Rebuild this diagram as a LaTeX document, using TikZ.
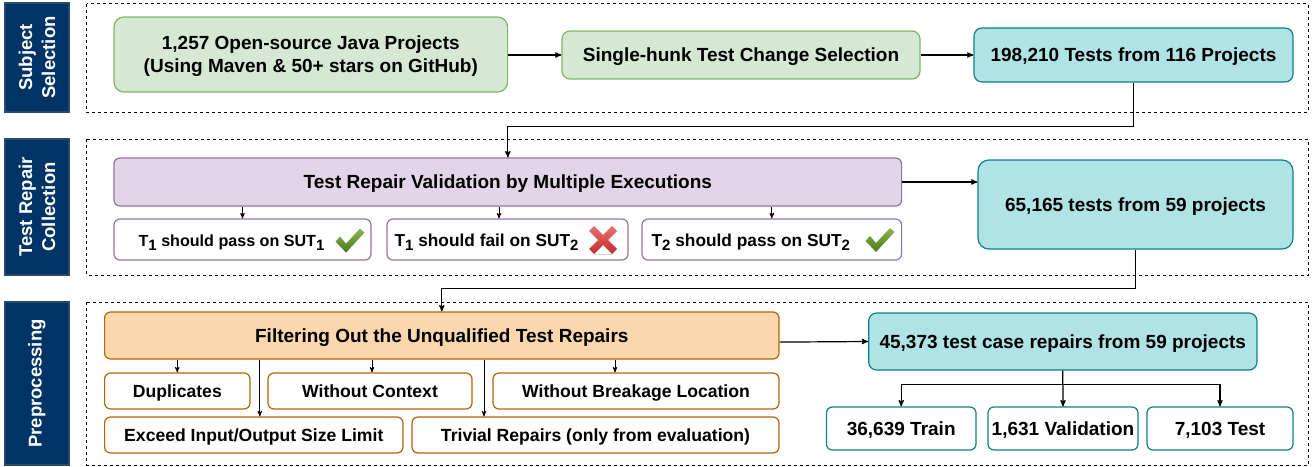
\documentclass[tikz,border=0pt]{standalone}
\usepackage{fontspec}
\setmainfont{Liberation Sans}
\usepackage{xcolor}
\usetikzlibrary{arrows}
\definecolor{barblue}{HTML}{003366}
\definecolor{greenfill}{HTML}{D5E8D4}
\definecolor{greenline}{HTML}{82B366}
\definecolor{purplefill}{HTML}{E1D5E7}
\definecolor{purpleline}{HTML}{9673A6}
\definecolor{tealfill}{HTML}{B0E3E6}
\definecolor{tealline}{HTML}{0E8088}
\definecolor{orangefill}{HTML}{FAD7AC}
\definecolor{orangeline}{HTML}{B46504}
\definecolor{checktop}{HTML}{8DB350}
\definecolor{checkbot}{HTML}{4A7A1E}
\definecolor{crosstop}{HTML}{E87070}
\definecolor{crossbot}{HTML}{C42A2A}
\newcommand{\Tsub}[1]{\raisebox{-0.5ex}{\fontsize{15}{15}\selectfont #1}}
\newcommand{\bigfont}{\fontsize{19}{23}\selectfont\bfseries}
\newcommand{\smallfont}{\fontsize{17.3}{20}\selectfont\bfseries}

\begin{document}
\begin{tikzpicture}[->,>=stealth',x=1pt,y=-1pt,semithick,line width=1.2pt,font=\bigfont]
\tikzstyle{every node}=[align=center,inner sep=0pt]
\tikzstyle{oneline}=[text height=16pt,text depth=2.4pt]
\tikzstyle{sidebar}=[fill=barblue,draw=barblue!70!gray,text=white,rotate=90,font=\fontsize{18.5}{23}\selectfont\bfseries]
\tikzstyle{dashbox}=[draw=black,line width=1pt,dash pattern=on 3pt off 3pt]
\tikzstyle{greenbox}=[rounded corners=8pt,fill=greenfill,draw=greenline]
\tikzstyle{purplebox}=[oneline,rounded corners=6pt,fill=purplefill,draw=purpleline]
\tikzstyle{purpleitem}=[oneline,rounded corners=6pt,fill=white,draw=purpleline,font=\smallfont]
\tikzstyle{tealbox}=[oneline,rounded corners=8pt,fill=tealfill,draw=tealline]
\tikzstyle{tealitem}=[oneline,rounded corners=6pt,fill=white,draw=tealline]
\tikzstyle{orangebox}=[oneline,rounded corners=6pt,fill=orangefill,draw=orangeline]
\tikzstyle{orangeitem}=[oneline,rounded corners=6pt,fill=white,draw=orangeline,font=\fontsize{17.6}{20}\selectfont\bfseries]
\tikzstyle{thinarrow}=[line width=0.9pt]
\tikzset{
  checkicon/.pic={\shade[top color=checktop,bottom color=checkbot]
    (-14.5,1) -- (-10,-4) -- (-4,3) -- (10,-12) -- (14.5,-8) -- (-4,12) -- cycle;},
  crossicon/.pic={\fill[gray!35] (-9,14) rectangle (9,15);
    \shade[top color=crosstop,bottom color=crossbot]
    (-14,-9) -- (-9,-14) -- (0,-5) -- (9,-14) -- (14,-9) -- (5,0) -- (14,9) -- (9,14)
    -- (0,5) -- (-9,14) -- (-14,9) -- (-5,0) -- cycle;}
}
\useasboundingbox (0,0) rectangle (1313,466);

\node[sidebar,minimum width=109pt,minimum height=64pt] (subject) at (37,57.5) {Subject\\Selection};
\node[sidebar,minimum width=136pt,minimum height=64pt] (collection) at (37,207) {Test Repair\\Collection};
\node[sidebar,minimum width=163pt,minimum height=64pt] (preproc) at (37,383.5) {Preprocessing};

\draw[dashbox] (86.5,3.7) rectangle (1308,112);
\draw[dashbox] (86.5,139) rectangle (1308,275);
\draw[dashbox] (86.5,302) rectangle (1308,465);

\node[greenbox,rounded corners=10pt,minimum width=393.6pt,minimum height=75pt] (java) at (310.8,54.5) {\rule{0pt}{18pt}1,257 Open-source Java Projects\\(Using Maven \& 50+ stars on GitHub)};
\node[greenbox,oneline,minimum width=358pt,minimum height=48pt] (hunk) at (741,55) {Single-hunk Test Change Selection};
\node[tealbox,minimum width=319pt,minimum height=54pt] (tests) at (1133.5,55) {198,210 Tests from 116 Projects};

\node[purplebox,minimum width=787.6pt,minimum height=48pt] (valid) at (507.8,182) {Test Repair Validation by Multiple Executions};
\node[purpleitem,minimum width=257pt,minimum height=41pt,font=\fontsize{16.1}{20}\selectfont\bfseries] (pass) at (242.5,239.5) {T\Tsub{1} should pass on SUT\Tsub{1}\hspace{22pt}};
\node[purpleitem,minimum width=241pt,minimum height=41pt] (fail) at (507.5,239.5) {T\Tsub{1} should fail on SUT\Tsub{2}\hspace{42pt}};
\node[purpleitem,minimum width=259.6pt,minimum height=41pt] (passb) at (771.8,239.5) {T\Tsub{2} should pass on SUT\Tsub{2}\hspace{42pt}};
\pic at (350,240.6) {checkicon};
\pic at (603,240) {crossicon};
\pic at (880,240) {checkicon};
\node[tealbox,rounded corners=11pt,minimum width=315pt,minimum height=89pt] (repo) at (1135.5,204.5) {65,165 tests from 59 projects};

\node[orangebox,minimum width=674.4pt,minimum height=47pt] (filter) at (441.8,335.5) {Filtering Out the Unqualified Test Repairs};
\node[orangeitem,minimum width=145.4pt,minimum height=36pt] (dup) at (177.3,391) {Duplicates};
\node[orangeitem,minimum width=204pt,minimum height=36pt] (context) at (370,391) {Without Context};
\node[orangeitem,minimum width=286pt,minimum height=36pt] (breakage) at (636,391) {Without Breakage Location};
\node[orangeitem,minimum width=298.4pt,minimum height=36pt] (exceed) at (253.8,435) {Exceed Input/Output Size Limit};
\node[orangeitem,minimum width=367pt,minimum height=36pt] (trivial) at (595.5,435) {Trivial Repairs (only from evaluation)};

\node[tealbox,minimum width=388.3pt,minimum height=57pt] (cases) at (1062.8,341.5) {45,373 test case repairs from 59 projects};
\node[tealitem,minimum width=149.6pt,minimum height=43pt] (train) at (901.2,428.5) {36,639 Train};
\node[tealitem,minimum width=150pt,minimum height=43pt] (val) at (1063,428.5) {1,631 Validation};
\node[tealitem,minimum width=146pt,minimum height=43pt] (testset) at (1220,428.5) {7,103 Test};

\draw (java.east |- hunk.west) -- (hunk.west);
\draw (hunk.east) -- (tests.west);
\draw (tests.south) -- ++(0,44) -| (valid.north);
\draw (valid.east) -- (repo.west |- valid.east);
\draw (repo.south) -- ++(0,39) -| (filter.north);
\draw ([yshift=-6.6pt]filter.east) -- (cases.west);
\draw (cases.south) -- (val.north);
\draw (cases.south) -- ++(0,14) -| (train.north);
\draw (cases.south) -- ++(0,14) -| (testset.north);

\draw[thinarrow] (pass.north |- valid.south) -- (pass.north);
\draw[thinarrow] ([xshift=-8.5pt]fail.north |- valid.south) -- ([xshift=-8.5pt]fail.north);
\draw[thinarrow] (passb.north |- valid.south) -- (passb.north);
\draw[thinarrow] (dup.north |- filter.south) -- (dup.north);
\draw[thinarrow] ([xshift=2pt]context.north |- filter.south) -- ([xshift=2pt]context.north);
\draw[thinarrow] ([xshift=-21pt]breakage.north |- filter.south) -- ([xshift=-21pt]breakage.north);
\draw[thinarrow] ([xshift=6pt]exceed.north |- filter.south) -- ([xshift=6pt]exceed.north);
\draw[thinarrow] ([xshift=-111.5pt]trivial.north |- filter.south) -- ([xshift=-111.5pt]trivial.north);
\end{tikzpicture}
\end{document}
